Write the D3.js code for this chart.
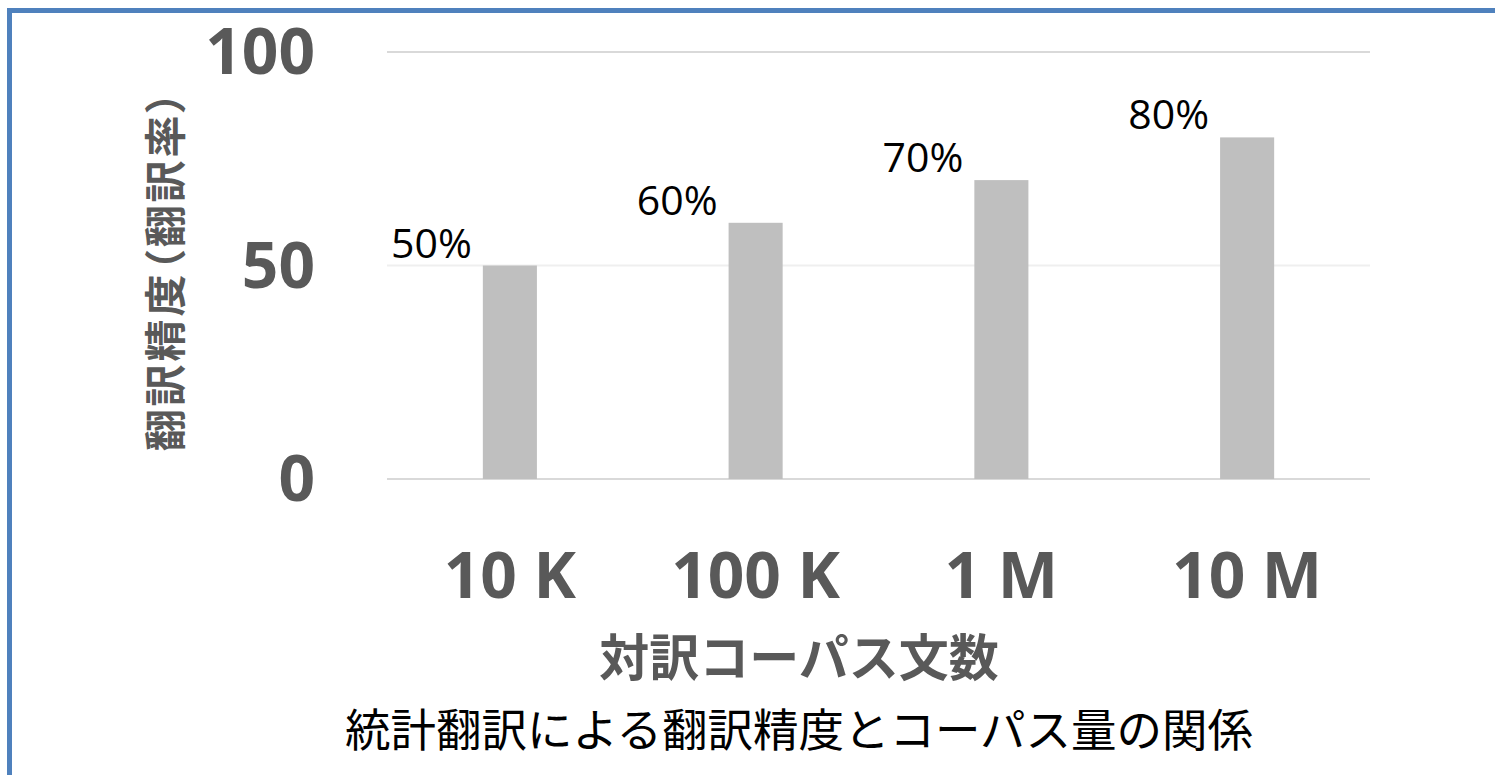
<!DOCTYPE html>
<html>
<head>
<meta charset="utf-8">
<script src="https://cdn.jsdelivr.net/npm/d3@7"></script>
<style>
    body { margin: 0; background: #fff; }
    .tick-label { font-family: "Open Sans", sans-serif; font-weight: bold; fill: #595959; }
    .jp { font-family: "Noto Sans CJK JP", sans-serif; }
</style>
</head>
<body>
<svg id="chart" width="1495" height="775"></svg>
<script>
// Chart data
const sizes = ["10 K", "100 K", "1 M", "10 M"];
const accuracy = [50, 60, 70, 80];
const yTicks = [0, 50, 100];

const xTitle = "対訳コーパス文数";
const yTitle = "翻訳精度（翻訳率）";
const caption = "統計翻訳による翻訳精度とコーパス量の関係";

let svg = d3.select("#chart");

// Frame (only top and left edges are visible in the picture)
svg.append("rect")
    .attr("x", 9.5)
    .attr("y", 10.5)
    .attr("width", 2000)
    .attr("height", 2000)
    .attr("fill", "none")
    .attr("stroke", "#4f81bd")
    .attr("stroke-width", 5);

let plot = { left: 387, right: 1370, top: 52, bottom: 479 };

let x = d3.scaleBand()
    .domain(sizes)
    .range([plot.left, plot.right]);

let y = d3.scaleLinear()
    .domain([0, 100])
    .range([plot.bottom, plot.top]);

let barW = x.bandwidth() * 0.22;

// Gridlines
svg.append("g").selectAll("line")
    .data(yTicks)
    .enter()
    .append("line")
    .attr("x1", plot.left)
    .attr("x2", plot.right)
    .attr("y1", d => y(d))
    .attr("y2", d => y(d))
    .attr("stroke", d => d === 50 ? "#efefef" : "#d9d9d9")
    .attr("stroke-width", 2);

// Y tick labels
svg.append("g").selectAll("text")
    .data(yTicks)
    .enter()
    .append("text")
    .classed("tick-label", true)
    .attr("x", 315)
    .attr("y", d => y(d))
    .attr("dy", "0.35em")
    .attr("text-anchor", "end")
    .style("font-size", "64px")
    .text(d => d);

// Bars
svg.append("g").selectAll("rect")
    .data(accuracy)
    .enter()
    .append("rect")
    .attr("x", (d, i) => x(sizes[i]) + x.bandwidth() / 2 - barW / 2)
    .attr("y", d => y(d))
    .attr("width", barW)
    .attr("height", d => y(0) - y(d))
    .attr("fill", "#bfbfbf");

// Data labels, sitting up and left of each bar
svg.append("g").selectAll("text")
    .data(accuracy)
    .enter()
    .append("text")
    .attr("x", (d, i) => x(sizes[i]) + x.bandwidth() / 2 - barW / 2 - 11)
    .attr("y", d => y(d) - 8)
    .attr("text-anchor", "end")
    .style("font-family", "'Open Sans', sans-serif")
    .style("font-size", "41px")
    .attr("fill", "#000")
    .text(d => d + "%");

// X tick labels
svg.append("g").selectAll("text")
    .data(sizes)
    .enter()
    .append("text")
    .classed("tick-label", true)
    .attr("x", d => x(d) + x.bandwidth() / 2)
    .attr("y", 598)
    .attr("text-anchor", "middle")
    .style("font-size", "64px")
    .text(d => d);

// Axis titles
svg.append("text")
    .classed("jp", true)
    .attr("x", 799)
    .attr("y", 676)
    .attr("text-anchor", "middle")
    .style("font-size", "50px")
    .style("font-weight", "bold")
    .attr("fill", "#595959")
    .text(xTitle);

// proportional punctuation keeps the brackets tight like the original
svg.append("text")
    .classed("jp", true)
    .attr("transform", "translate(166,270) rotate(-90)")
    .attr("text-anchor", "middle")
    .attr("dy", "0.36em")
    .style("font-size", "42px")
    .style("font-weight", "bold")
    .style("font-feature-settings", "'palt'")
    .style("letter-spacing", "3px")
    .attr("fill", "#595959")
    .text(yTitle);

// Caption below the chart
svg.append("text")
    .classed("jp", true)
    .attr("x", 799)
    .attr("y", 747)
    .attr("text-anchor", "middle")
    .style("font-size", "45.5px")
    .attr("fill", "#000")
    .text(caption);
</script>
</body>
</html>
